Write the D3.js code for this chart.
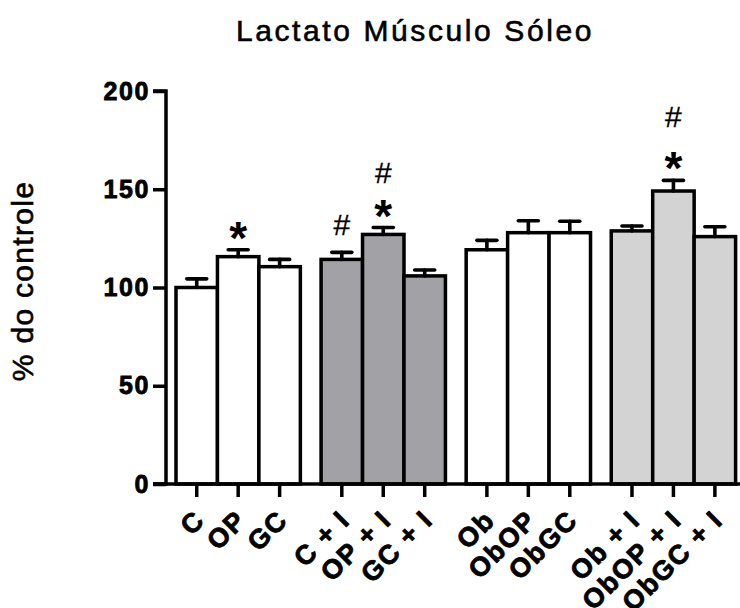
<!DOCTYPE html>
<html>
<head>
<meta charset="utf-8">
<script src="https://cdn.jsdelivr.net/npm/d3@7"></script>
<style>
  html, body { margin: 0; padding: 0; background: #fff; }
  svg { display: block; font-family: "Liberation Sans", Arial, Helvetica, sans-serif; }
</style>
</head>
<body>
<svg id="chart" width="740" height="608"></svg>
<script>
// Lactate in soleus muscle, % of control (mean ± SEM)
const categories = ["C", "OP", "GC", "C + I", "OP + I", "GC + I",
                    "Ob", "ObOP", "ObGC", "Ob + I", "ObOP + I", "ObGC + I"];
const means = [100, 115.7, 110.6, 114.3, 127.0, 105.9,
               119.2, 127.9, 127.9, 128.8, 149.1, 125.9];
const sems  = [4.4, 3.5, 3.7, 3.6, 3.5, 3.0,
               4.8, 6.1, 5.8, 2.5, 5.4, 5.0];
const groupOf = [0, 0, 0, 1, 1, 1, 2, 2, 2, 3, 3, 3];
const groupFills = ["#ffffff", "#a2a2a6", "#ffffff", "#d3d3d3"];
// significance marks above bars: "*" vs control, "#" vs matching group
const starMarks = [1, 4, 10];
const hashMarks = [3, 4, 10];
const yTicks = [0, 50, 100, 150, 200];

const svg = d3.select("#chart");
const baseY = 484, topY = 91;
const y = d3.scaleLinear().domain([0, 200]).range([baseY, topY]);

// bars sit in groups of three, with half a bar of space between groups
const slot = i => Math.floor(i / 3) * 3.5 + (i % 3);
const x = d3.scaleLinear().domain([0, 13.5]).range([176, 735.6]);
const bw = x(1) - x(0);
const cx = i => x(slot(i)) + bw / 2;

// title
svg.append("text")
  .attr("x", 415).attr("y", 41)
  .attr("text-anchor", "middle")
  .attr("stroke", "#000").attr("stroke-width", 0.6)
  .style("font-size", "30px").style("letter-spacing", "2.6px")
  .text("Lactato Músculo Sóleo");

// y axis title
svg.append("text")
  .attr("transform", "translate(33,281) rotate(-90)")
  .attr("text-anchor", "middle")
  .attr("stroke", "#000").attr("stroke-width", 0.6)
  .style("font-size", "30px").style("letter-spacing", "1.3px")
  .text("% do controle");

// bars
svg.append("g").selectAll("rect")
  .data(means)
  .join("rect")
  .attr("x", (d, i) => x(slot(i)))
  .attr("y", d => y(d))
  .attr("width", bw)
  .attr("height", d => baseY - y(d))
  .attr("fill", (d, i) => groupFills[groupOf[i]])
  .attr("stroke", "#000")
  .attr("stroke-width", 3.5);

// error bars (upper only)
const eb = svg.append("g").attr("stroke", "#000").attr("stroke-width", 3.6).attr("stroke-linecap", "round");
means.forEach((m, i) => {
  eb.append("line").attr("x1", cx(i)).attr("x2", cx(i)).attr("y1", y(m)).attr("y2", y(m + sems[i]));
  eb.append("line").attr("x1", cx(i) - 10).attr("x2", cx(i) + 10).attr("y1", y(m + sems[i])).attr("y2", y(m + sems[i]));
});

// significance marks
const capY = i => y(means[i] + sems[i]);
starMarks.forEach(i => {
  svg.append("text")
    .attr("x", cx(i)).attr("y", capY(i) + 4)
    .attr("text-anchor", "middle")
    .style("font-size", "46px").style("font-weight", "bold")
    .text("*");
});
const hashLift = { 3: 17, 4: 45, 10: 53 };
hashMarks.forEach(i => {
  svg.append("text")
    .attr("x", cx(i)).attr("y", capY(i) - hashLift[i])
    .attr("text-anchor", "middle")
    .attr("stroke", "#000").attr("stroke-width", 0.3)
    .style("font-size", "30px")
    .text("#");
});

// y axis
const yAxis = d3.axisLeft(y).tickValues(yTicks).tickSize(13).tickPadding(3);
const gy = svg.append("g").attr("transform", "translate(166,0)").call(yAxis);
gy.select(".domain").attr("stroke-width", 3.5).attr("d", `M-13,${topY}H0V${baseY}H-13`);
gy.selectAll(".tick line").attr("stroke-width", 3.5);
gy.selectAll(".tick text")
  .style("font-size", "25px").style("font-weight", "bold").style("letter-spacing", "1.6px")
  .style("font-family", "'Liberation Sans', Arial, sans-serif")
  .attr("fill", "#000").attr("stroke", "#000").attr("stroke-width", 0.8);

// x axis
svg.append("line")
  .attr("x1", 153).attr("x2", 740).attr("y1", baseY).attr("y2", baseY)
  .attr("stroke", "#000").attr("stroke-width", 3.5);
const gx = svg.append("g");
categories.forEach((c, i) => {
  gx.append("line").attr("x1", cx(i)).attr("x2", cx(i)).attr("y1", baseY).attr("y2", baseY + 13)
    .attr("stroke", "#000").attr("stroke-width", 3.5);
  gx.append("text")
    .attr("transform", `translate(${cx(i) + 3},${baseY + 31}) rotate(-45)`)
    .attr("text-anchor", "end").attr("dy", "0.35em")
    .attr("stroke", "#000").attr("stroke-width", 0.8)
    .style("font-size", "27px").style("font-weight", "bold").style("letter-spacing", "1.6px")
    .text(c);
});
</script>
</body>
</html>
